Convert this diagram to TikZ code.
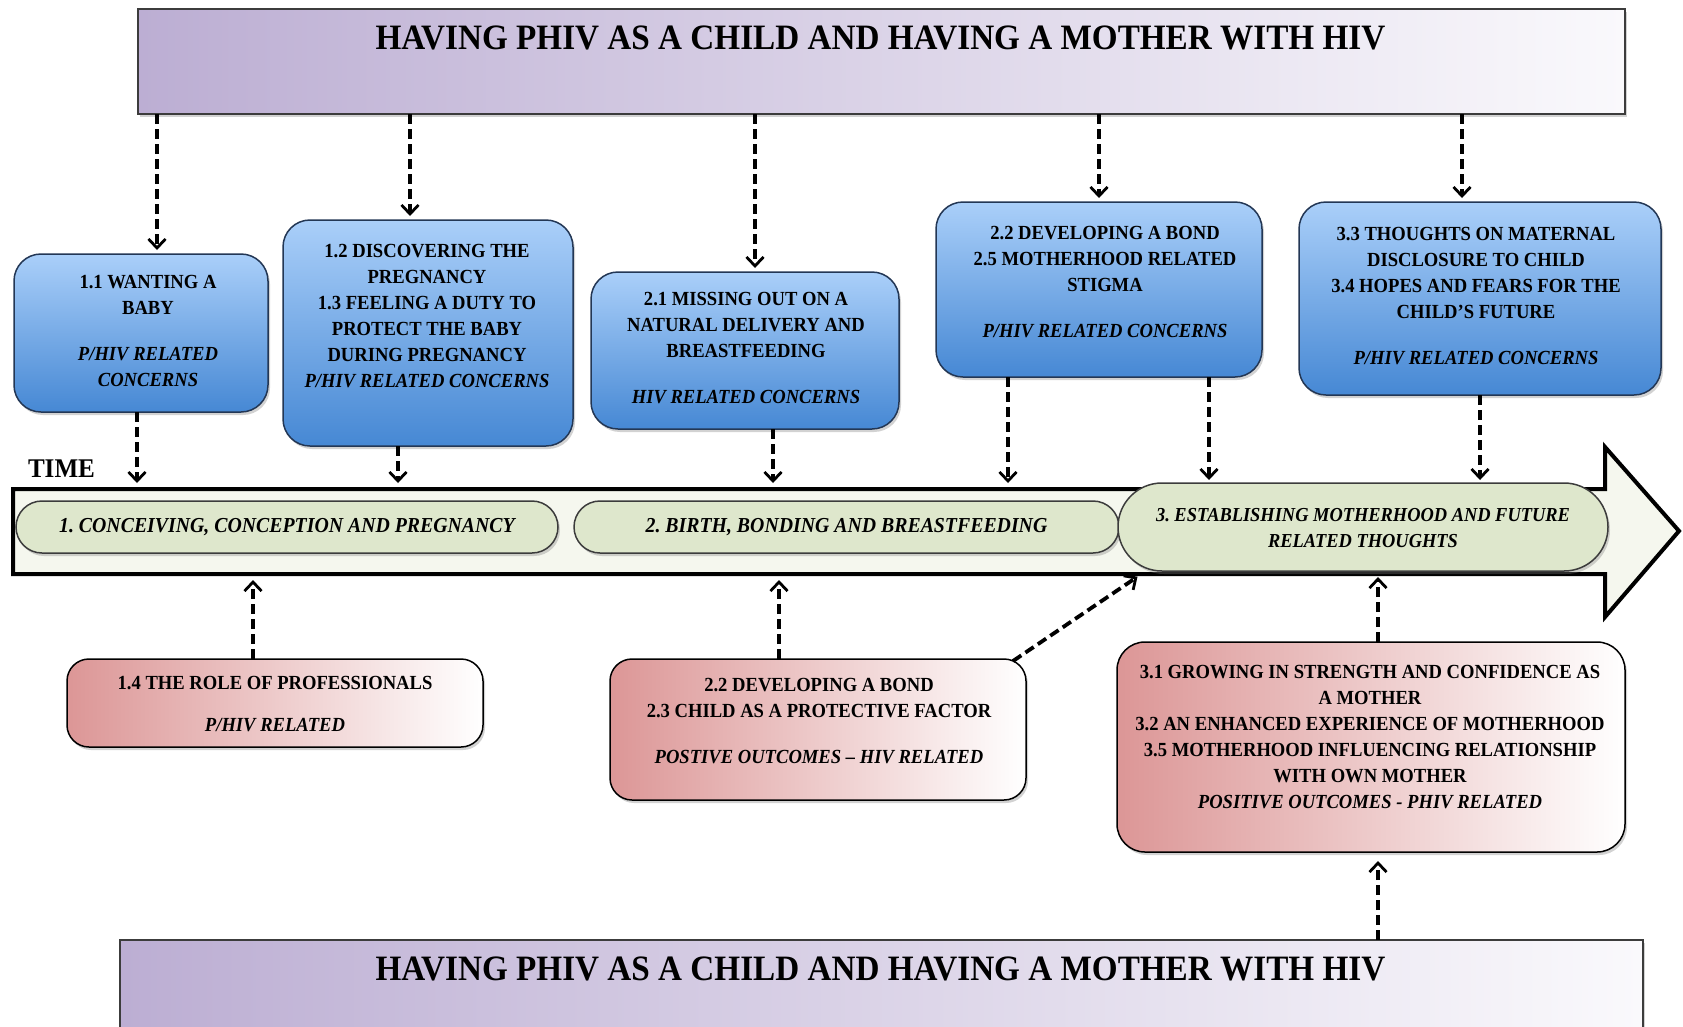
\documentclass[tikz,border=0pt]{standalone}
\usepackage{fontspec}
\setmainfont{Liberation Serif}[FakeStretch=0.93]
\usetikzlibrary{arrows.meta,shadows}
\definecolor{purpL}{RGB}{188,174,211}
\definecolor{purpR}{RGB}{250,249,252}
\definecolor{blueT}{RGB}{170,207,249}
\definecolor{blueB}{RGB}{70,136,212}
\definecolor{blueEdge}{RGB}{35,55,85}
\definecolor{pinkL}{RGB}{220,150,150}
\definecolor{pillG}{RGB}{222,231,204}
\definecolor{lineG}{RGB}{245,247,238}
\definecolor{edgeGray}{RGB}{60,60,60}
\begin{document}
\begin{tikzpicture}[x=1pt,y=-1pt,
  every node/.style={inner sep=0pt,outer sep=0pt},
  shadowed/.style={drop shadow={opacity=0.35,shadow xshift=2pt,shadow yshift=-3pt}},
  headbox/.style={draw=edgeGray,line width=1.5pt,left color=purpL,right color=purpR,shadowed},
  bluebox/.style={draw=blueEdge,line width=1.5pt,rounded corners=27pt,top color=blueT,bottom color=blueB,shadowed},
  pinkbox/.style={draw=black,line width=1.5pt,rounded corners=22pt,left color=pinkL,right color=white,shadowed},
  pillbox/.style={draw=edgeGray,line width=1.5pt,fill=pillG,shadowed},
  txt/.style={align=center,font=\fontsize{20}{26}\selectfont\bfseries},
  pilltxt/.style={align=center,font=\fontsize{21.3}{26}\selectfont\bfseries\itshape},
  titletxt/.style={font=\fontsize{35.7}{40}\selectfont\bfseries},
  link/.style={line width=3.8pt,dash pattern=on 10pt off 5pt,-{Straight Barb[length=9pt,width=17pt,line width=2.8pt]}}
]
\useasboundingbox (0,0) rectangle (1683,1026);
\fill[white] (0,0) rectangle (1683,1026);

% header boxes
\node[headbox,minimum width=1487pt,minimum height=105pt] (top) at (881.5,61.5) {};
\node[titletxt] (toptxt) at (880.5,38) {HAVING PHIV AS A CHILD AND HAVING A MOTHER WITH HIV};
\node[headbox,minimum width=1523pt,minimum height=120pt] (bot) at (881.5,1000) {};
\node[titletxt] (bottxt) at (880.5,969) {HAVING PHIV AS A CHILD AND HAVING A MOTHER WITH HIV};

% timeline arrow
\draw[line width=4pt,fill=lineG,line join=miter]
  (13,489) -- (1605,489) -- (1605,447) -- (1679,531) -- (1605,617) -- (1605,574) -- (13,574) -- cycle;
\coordinate (tlTa) at (0,483);
\coordinate (tlBa) at (0,580);
\node[anchor=west,font=\fontsize{27}{29}\selectfont\bfseries] (time) at (28,469) {TIME};

% phase pills
\node[pillbox,rounded corners=26pt,minimum width=542pt,minimum height=52pt] (g1) at (287,527) {};
\node[pilltxt] (g1t) at (287,527) {1.\ CONCEIVING, CONCEPTION AND PREGNANCY};
\node[pillbox,rounded corners=26pt,minimum width=545pt,minimum height=52pt] (g2) at (846.5,527) {};
\node[pilltxt] (g2t) at (846.5,527) {2.\ BIRTH, BONDING AND BREASTFEEDING};
\node[pillbox,rounded corners=44pt,minimum width=490pt,minimum height=88pt] (g3) at (1363,527) {};
\node[pilltxt,font=\fontsize{19.8}{26}\selectfont\bfseries\itshape] (g3t) at (1363,528) {3.\ ESTABLISHING MOTHERHOOD AND FUTURE\\RELATED THOUGHTS};

% blue boxes
\node[bluebox,minimum width=254pt,minimum height=158pt] (b11) at (141,333) {};
\node[txt] (b11t) at (148,331) {1.1 WANTING A\\BABY\\[20pt]\textit{P/HIV RELATED}\\\textit{CONCERNS}};
\node[bluebox,minimum width=290pt,minimum height=226pt] (b12) at (428,333) {};
\node[txt] (b12t) at (427,316) {1.2 DISCOVERING THE\\PREGNANCY\\1.3 FEELING A DUTY TO\\PROTECT THE BABY\\DURING PREGNANCY\\\textit{P/HIV RELATED CONCERNS}};
\node[bluebox,minimum width=308pt,minimum height=157pt] (b21) at (745,350.5) {};
\node[txt] (b21t) at (746,348) {2.1 MISSING OUT ON A\\NATURAL DELIVERY AND\\BREASTFEEDING\\[20pt]\textit{HIV RELATED CONCERNS}};
\node[bluebox,minimum width=326pt,minimum height=175pt] (b22) at (1099,289.5) {};
\node[txt] (b22t) at (1105,282) {2.2 DEVELOPING A BOND\\2.5 MOTHERHOOD RELATED\\STIGMA\\[20pt]\textit{P/HIV RELATED CONCERNS}};
\node[bluebox,minimum width=362pt,minimum height=193pt] (b33) at (1480,298.5) {};
\node[txt] (b33t) at (1476,296) {3.3 THOUGHTS ON MATERNAL\\DISCLOSURE TO CHILD\\3.4 HOPES AND FEARS FOR THE\\CHILD'S FUTURE\\[20pt]\textit{P/HIV RELATED CONCERNS}};

% pink boxes
\node[pinkbox,minimum width=416pt,minimum height=88pt] (p14) at (275,703) {};
\node[txt] (p14t) at (275,704) {1.4 THE ROLE OF PROFESSIONALS\\[16pt]\textit{P/HIV RELATED}};
\node[pinkbox,minimum width=416pt,minimum height=141pt] (p22) at (818,729.5) {};
\node[txt] (p22t) at (819,721) {2.2 DEVELOPING A BOND\\2.3 CHILD AS A PROTECTIVE FACTOR\\[20pt]\textit{POSTIVE OUTCOMES -- HIV RELATED}};
\node[pinkbox,rounded corners=28pt,minimum width=508pt,minimum height=210pt] (p31) at (1371,747) {};
\node[txt] (p31t) at (1370,737) {3.1 GROWING IN STRENGTH AND CONFIDENCE AS\\A MOTHER\\3.2 AN ENHANCED EXPERIENCE OF MOTHERHOOD\\3.5 MOTHERHOOD INFLUENCING RELATIONSHIP\\WITH OWN MOTHER\\\textit{POSITIVE OUTCOMES - PHIV RELATED}};

% column coordinates
\coordinate (c1) at (157,0);
\coordinate (c2) at (410,0);
\coordinate (c3) at (755,0);
\coordinate (c4) at (1099,0);
\coordinate (c5) at (1462,0);
\coordinate (e1) at (137,0);
\coordinate (e2) at (398,0);
\coordinate (e3) at (773,0);
\coordinate (e4) at (1008,0);
\coordinate (e5) at (1209,0);
\coordinate (e6) at (1480,0);
\coordinate (f1) at (253,0);
\coordinate (f2) at (779,0);
\coordinate (f3) at (1378,0);

% connectors from header
\draw[link,shorten >=4pt] (top.south -| c1) -- (b11.north -| c1);
\draw[link,shorten >=4pt] (top.south -| c2) -- (b12.north -| c2);
\draw[link,shorten >=4pt] (top.south -| c3) -- (b21.north -| c3);
\draw[link,shorten >=4pt] (top.south -| c4) -- (b22.north -| c4);
\draw[link,shorten >=4pt] (top.south -| c5) -- (b33.north -| c5);

% connectors to timeline
\draw[link] (b11.south -| e1) -- (tlTa -| e1);
\draw[link] (b12.south -| e2) -- (tlTa -| e2);
\draw[link] (b21.south -| e3) -- (tlTa -| e3);
\draw[link] (b22.south -| e4) -- (tlTa -| e4);
\draw[link,shorten >=3pt] (b22.south -| e5) -- (g3.north -| e5);
\draw[link,shorten >=3pt] (b33.south -| e6) -- (g3.north -| e6);

% connectors from below
\draw[link] (p14.north -| f1) -- (tlBa -| f1);
\draw[link] (p22.north -| f2) -- (tlBa -| f2);
\draw[link,shorten >=3pt] ([xshift=-13pt,yshift=-2pt]p22.north east) -- ([xshift=22pt,yshift=-4pt]g3.south west);
\draw[link,shorten >=6pt] (p31.north -| f3) -- (g3.south -| f3);
\draw[link,shorten >=9pt] (bot.north -| f3) -- (p31.south -| f3);
\end{tikzpicture}
\end{document}
